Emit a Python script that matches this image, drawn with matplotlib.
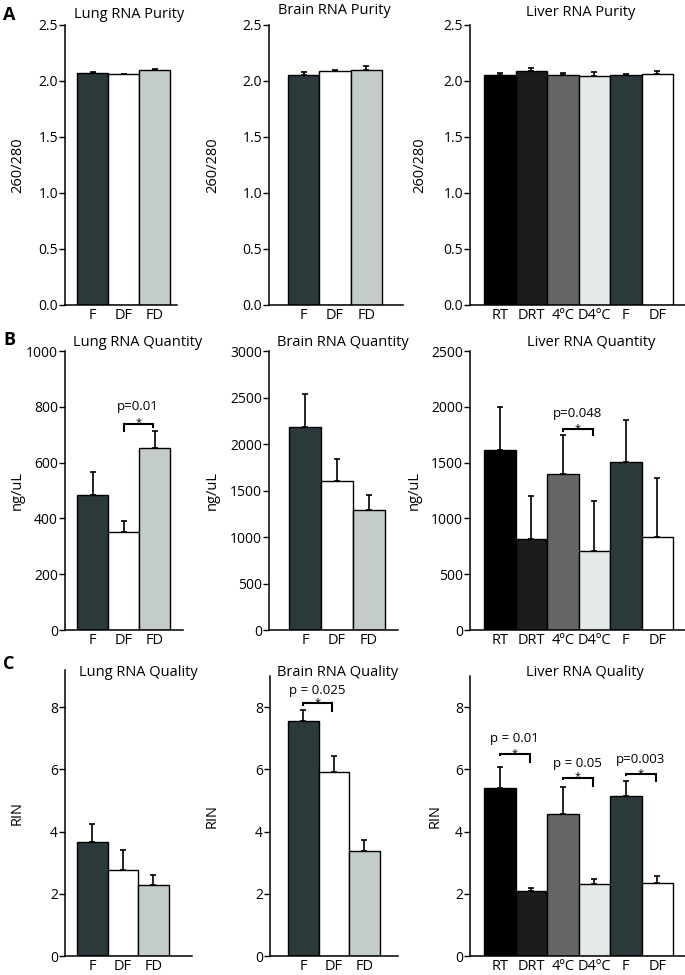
import matplotlib
matplotlib.use("Agg")
import matplotlib.pyplot as plt

plt.rcParams['font.family'] = ['Open Sans', 'DejaVu Sans']

W, H = 685, 975

# ---------------- data ----------------
three_cats = ["F", "DF", "FD"]
liver_cats = ["RT", "DRT", "4ºC", "D4ºC", "F", "DF"]

three_colors = ["#2a3a3b", "#ffffff", "#c3cccb"]
liver_colors = ["#000000", "#1c1c1c", "#666666", "#e2e9e6", "#2a3a3b", "#ffffff"]

lung_purity = [2.07, 2.06, 2.10]
lung_purity_err = [0.01, 0.005, 0.01]
brain_purity = [2.05, 2.09, 2.10]
brain_purity_err = [0.03, 0.01, 0.03]
liver_purity = [2.057, 2.086, 2.05, 2.045, 2.05, 2.06]
liver_purity_err = [0.015, 0.03, 0.02, 0.035, 0.01, 0.03]

lung_qty = [483, 352, 651]
lung_qty_err = [82, 40, 62]
brain_qty = [2188, 1605, 1294]
brain_qty_err = [347, 236, 158]
liver_qty = [1612, 815, 1400, 704, 1504, 830]
liver_qty_err = [385, 385, 343, 454, 377, 531]

lung_rin = [3.68, 2.77, 2.29]
lung_rin_err = [0.55, 0.63, 0.32]
brain_rin = [7.56, 5.93, 3.37]
brain_rin_err = [0.36, 0.50, 0.37]
liver_rin = [5.41, 2.09, 4.55, 2.32, 5.13, 2.34]
liver_rin_err = [0.68, 0.10, 0.90, 0.15, 0.50, 0.23]

purity_ticks = [0.0, 0.5, 1.0, 1.5, 2.0, 2.5]
purity_ticklabels = ["0.0", "0.5", "1.0", "1.5", "2.0", "2.5"]
lung_qty_ticks = [0, 200, 400, 600, 800, 1000]
brain_qty_ticks = [0, 500, 1000, 1500, 2000, 2500, 3000]
liver_qty_ticks = [0, 500, 1000, 1500, 2000, 2500]
rin_ticks = [0, 2, 4, 6, 8]

# significance annotations: (i, j, line y, left drop y, right drop y, star y, text y, text)
lung_qty_sig = [(1, 2, 738, 713, 729, 742, 800, "p=0.01")]
liver_qty_sig = [(2, 3, 1797, 1780, 1746, 1808, 1940, "p=0.048")]
brain_rin_sig = [(0, 1, 8.12, 8.08, 7.87, 8.16, 8.54, "p = 0.025")]
liver_rin_sig = [(0, 1, 6.48, 6.45, 6.25, 6.52, 6.98, "p = 0.01"),
                 (2, 3, 5.72, 5.69, 5.46, 5.76, 6.20, "p = 0.05"),
                 (4, 5, 5.84, 5.81, 5.62, 5.88, 6.32, "p=0.003")]

fig = plt.figure(figsize=(W / 100, H / 100), dpi=100)


def fx(px):
    return px / W


def fy(py):
    return 1 - py / H


def make_ax(L, R, top, bottom, b0, bw, ymax):
    ax = fig.add_axes([fx(L), fy(bottom), fx(R - L), (bottom - top) / H])
    xl = -0.5 - (b0 - L) / bw
    xr = xl + (R - L) / bw
    ax.set_xlim(xl, xr)
    ax.set_ylim(0, ymax)
    for s in ["top", "right"]:
        ax.spines[s].set_visible(False)
    for s in ["left", "bottom"]:
        ax.spines[s].set_linewidth(1.1)
    ax.tick_params(axis="y", direction="out", length=4, width=1, pad=1, labelsize=10)
    ax.tick_params(axis="x", length=0, pad=2, labelsize=10.5)
    return ax


def draw(ax, cats, vals, errs, colors):
    x = list(range(len(cats)))
    ax.bar(x, vals, width=1.0, color=colors, edgecolor="black", linewidth=1.0, zorder=2)
    ax.errorbar(x, vals, yerr=[[0] * len(errs), errs], fmt="none", ecolor="black",
                elinewidth=1.2, capsize=2.5, capthick=1.2, zorder=3)
    ax.set_xticks(x)
    ax.set_xticklabels(cats)


def sig(ax, items):
    for (i, j, y, yl, yr, ys, yt, txt) in items:
        x1, x2 = i, j - 0.05
        ax.plot([x1, x1, x2, x2], [yl, y, y, yr], color="black", lw=1.5,
                solid_joinstyle="miter", zorder=4)
        ax.text((x1 + x2) / 2, ys, "*", ha="center", va="center", fontsize=8)
        ax.text((x1 + x2) / 2, yt, txt, ha="center", va="center", fontsize=9.5)


def ylabel(ax, L, R, px, text):
    ax.set_ylabel(text, fontsize=10.5)
    ax.yaxis.set_label_coords((px - L) / (R - L), 0.5)


def title(cx, cy, text):
    fig.text(fx(cx), fy(cy), text, ha="center", va="center", fontsize=10.5)


# ---------------- Row A ----------------
ax = make_ax(65, 177, 25, 305, 77, 31, 2.5)
draw(ax, three_cats, lung_purity, lung_purity_err, three_colors)
ax.set_yticks(purity_ticks, purity_ticklabels)
ylabel(ax, 65, 177, 25, "260/280")
title(129, 15, "Lung RNA Purity")

ax = make_ax(269, 403, 25, 305, 288, 31.3, 2.5)
draw(ax, three_cats, brain_purity, brain_purity_err, three_colors)
ax.set_yticks(purity_ticks, purity_ticklabels)
ylabel(ax, 269, 403, 220, "260/280")
title(334, 10, "Brain RNA Purity")

ax = make_ax(470, 685, 25, 305, 484, 31.5, 2.5)
draw(ax, liver_cats, liver_purity, liver_purity_err, liver_colors)
ax.set_yticks(purity_ticks, purity_ticklabels)
ylabel(ax, 470, 685, 427, "260/280")
title(581, 12, "Liver RNA Purity")

# ---------------- Row B ----------------
ax = make_ax(65, 183, 351, 630, 77, 31, 1000)
draw(ax, three_cats, lung_qty, lung_qty_err, three_colors)
ax.set_yticks(lung_qty_ticks)
ylabel(ax, 65, 183, 25, "ng/uL")
sig(ax, lung_qty_sig)
title(138, 343, "Lung RNA Quantity")

ax = make_ax(269, 398, 351, 630, 289, 32, 3000)
draw(ax, three_cats, brain_qty, brain_qty_err, three_colors)
ax.set_yticks(brain_qty_ticks)
ylabel(ax, 269, 398, 220, "ng/uL")
title(343, 343, "Brain RNA Quantity")

ax = make_ax(470, 685, 351, 630, 484, 31.5, 2500)
draw(ax, liver_cats, liver_qty, liver_qty_err, liver_colors)
ax.set_yticks(liver_qty_ticks)
ylabel(ax, 470, 685, 422, "ng/uL")
sig(ax, liver_qty_sig)
title(591, 343, "Liver RNA Quantity")

# ---------------- Row C ----------------
ppu = 31.1
ax = make_ax(65, 192, 956 - 9.2 * ppu, 956, 77, 30.5, 9.2)
draw(ax, three_cats, lung_rin, lung_rin_err, three_colors)
ax.set_yticks(rin_ticks)
ylabel(ax, 65, 192, 25, "RIN")
title(138, 672, "Lung RNA Quality")

ax = make_ax(270, 398, 956 - 9.0 * ppu, 956, 288, 30.5, 9.0)
draw(ax, three_cats, brain_rin, brain_rin_err, three_colors)
ax.set_yticks(rin_ticks)
ylabel(ax, 270, 398, 220, "RIN")
sig(ax, brain_rin_sig)
title(338, 672, "Brain RNA Quality")

ax = make_ax(470, 685, 956 - 9.0 * ppu, 956, 484, 31.5, 9.0)
draw(ax, liver_cats, liver_rin, liver_rin_err, liver_colors)
ax.set_yticks(rin_ticks)
ylabel(ax, 470, 685, 443, "RIN")
sig(ax, liver_rin_sig)
title(585, 672, "Liver RNA Quality")

# panel letters
for letter, py in [("A", 15), ("B", 340), ("C", 664)]:
    fig.text(fx(3), fy(py), letter, ha="left", va="center", fontsize=13, fontweight="bold")

fig.savefig("out.png", dpi=100)
